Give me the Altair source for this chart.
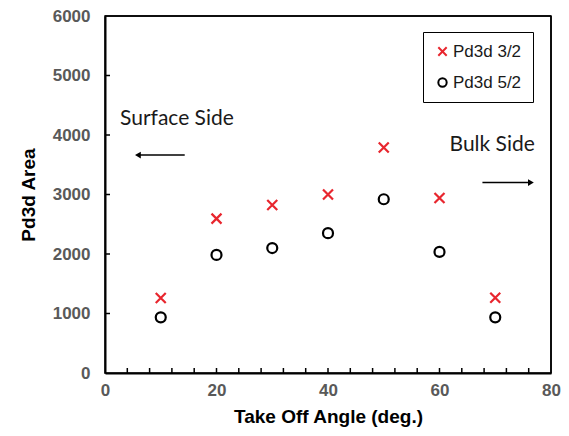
import altair as alt
import pandas as pd

# ---- data ----
angles = [10, 20, 30, 40, 50, 60, 70]
pd3d_32 = [1260, 2595, 2825, 3000, 3790, 2940, 1265]
pd3d_52 = [935, 1985, 2100, 2350, 2920, 2035, 935]

series_names = ["Pd3d 3/2", "Pd3d 5/2"]
series_colors = ["#e8262e", "#000000"]
x_path = "M-1,-1L1,1M-1,1L1,-1"
series_shapes = [x_path, "circle"]

x_labels = [0, 20, 40, 60, 80]
y_labels = [0, 1000, 2000, 3000, 4000, 5000, 6000]
x_minor_ticks = [4, 8, 12, 16, 20, 24, 28, 32, 36, 40, 44, 48, 52, 56, 60, 64, 68, 72, 76]
y_minor_ticks = [1000, 2000, 3000, 4000, 5000]

notes_text = ["Surface Side", "Bulk Side"]
notes_x = [2.7, 61.8]
notes_y = [4264, 3829]
arrow_from = [14.3, 67.7]
arrow_to = [5.9, 76.4]
arrow_y = [3662, 3200]
arrow_heads = ["left", "right"]

W, H = 446, 357

pts = pd.DataFrame({
    "angle": angles + angles,
    "area": pd3d_32 + pd3d_52,
    "series": [series_names[0]] * len(angles) + [series_names[1]] * len(angles),
})
notes = pd.DataFrame({"text": notes_text, "x": notes_x, "y": notes_y})
arrows = pd.DataFrame({"x": arrow_from, "x2": arrow_to, "y": arrow_y, "head": arrow_heads})
xt = pd.DataFrame({"t": x_minor_ticks})
yt = pd.DataFrame({"t": y_minor_ticks})
one = pd.DataFrame({"k": [0]})

xscale = alt.Scale(domain=[0, 80], nice=False, zero=False)
yscale = alt.Scale(domain=[0, 6000], nice=False)
XT = "Take Off Angle (deg.)"
YT = "Pd3d Area"
xaxis = alt.Axis(values=x_labels, title=XT, format="d")
yaxis = alt.Axis(values=y_labels, title=YT, format="d")


def X(field):
    return alt.X(field, type="quantitative", scale=xscale, axis=xaxis, title=XT)


def Y(field):
    return alt.Y(field, type="quantitative", scale=yscale, axis=yaxis, title=YT)


points = alt.Chart(pts).mark_point(filled=False, strokeWidth=2.2, size=100, opacity=1).encode(
    x=X("angle"),
    y=Y("area"),
    color=alt.Color("series:N", scale=alt.Scale(domain=series_names, range=series_colors),
                    legend=alt.Legend(title=None)),
    shape=alt.Shape("series:N", scale=alt.Scale(domain=series_names, range=series_shapes),
                    legend=alt.Legend(title=None)),
)

xticks = alt.Chart(xt).mark_rule(color="black", strokeWidth=1.5).encode(
    x=X("t"), y=alt.value(H - 5), y2=alt.value(H)
)
yticks = alt.Chart(yt).mark_rule(color="black", strokeWidth=1.5).encode(
    y=Y("t"), x=alt.value(0), x2=alt.value(5)
)
top_border = alt.Chart(one).mark_rule(color="black", strokeWidth=1.5).encode(
    x=alt.value(0), x2=alt.value(W), y=alt.value(0)
)
right_border = alt.Chart(one).mark_rule(color="black", strokeWidth=1.5).encode(
    x=alt.value(W), y=alt.value(0), y2=alt.value(H)
)

note_text = alt.Chart(notes).mark_text(
    align="left", baseline="middle", font="Lato", fontSize=21, color="#1a1a1a"
).encode(x=X("x"), y=Y("y"), text="text:N")

arrow_lines = alt.Chart(arrows).mark_rule(color="black", strokeWidth=1.5).encode(
    x=X("x"), x2="x2", y=Y("y")
)
tip_left = alt.Chart(arrows).transform_filter(alt.datum.head == "left").mark_point(
    shape="triangle-left", filled=True, color="black", size=45, opacity=1
).encode(x=X("x2"), y=Y("y"))
tip_right = alt.Chart(arrows).transform_filter(alt.datum.head == "right").mark_point(
    shape="triangle-right", filled=True, color="black", size=45, opacity=1
).encode(x=X("x2"), y=Y("y"))

chart = alt.layer(
    xticks, yticks, top_border, right_border, arrow_lines, tip_left, tip_right, note_text, points
).properties(
    width=W, height=H,
    padding={"left": 97, "top": 8, "right": 10, "bottom": 55},
    autosize=alt.AutoSizeParams(type="none"),
).configure_view(
    stroke="black", strokeWidth=1.5
).configure_axis(
    grid=False, ticks=False, domainColor="black", domainWidth=2, labelFlush=False,
    labelFont="Liberation Sans", labelFontWeight="bold", labelFontSize=17, labelColor="#595959",
    titleFont="Liberation Sans", titleFontWeight="bold", titleFontSize=19, titleColor="black",
).configure_axisX(
    labelPadding=9, titlePadding=9,
).configure_axisY(
    labelPadding=15, titlePadding=14,
).configure_legend(
    orient="none", legendX=318, legendY=16, strokeColor="black", padding=11,
    labelFont="Liberation Sans", labelFontSize=17, labelFontWeight="normal",
    labelColor="#1a1a1a", labelOffset=2,
    symbolSize=70, symbolStrokeWidth=2, rowPadding=13,
)

chart.save("out.html", embed_options={"renderer": "svg", "actions": False})
